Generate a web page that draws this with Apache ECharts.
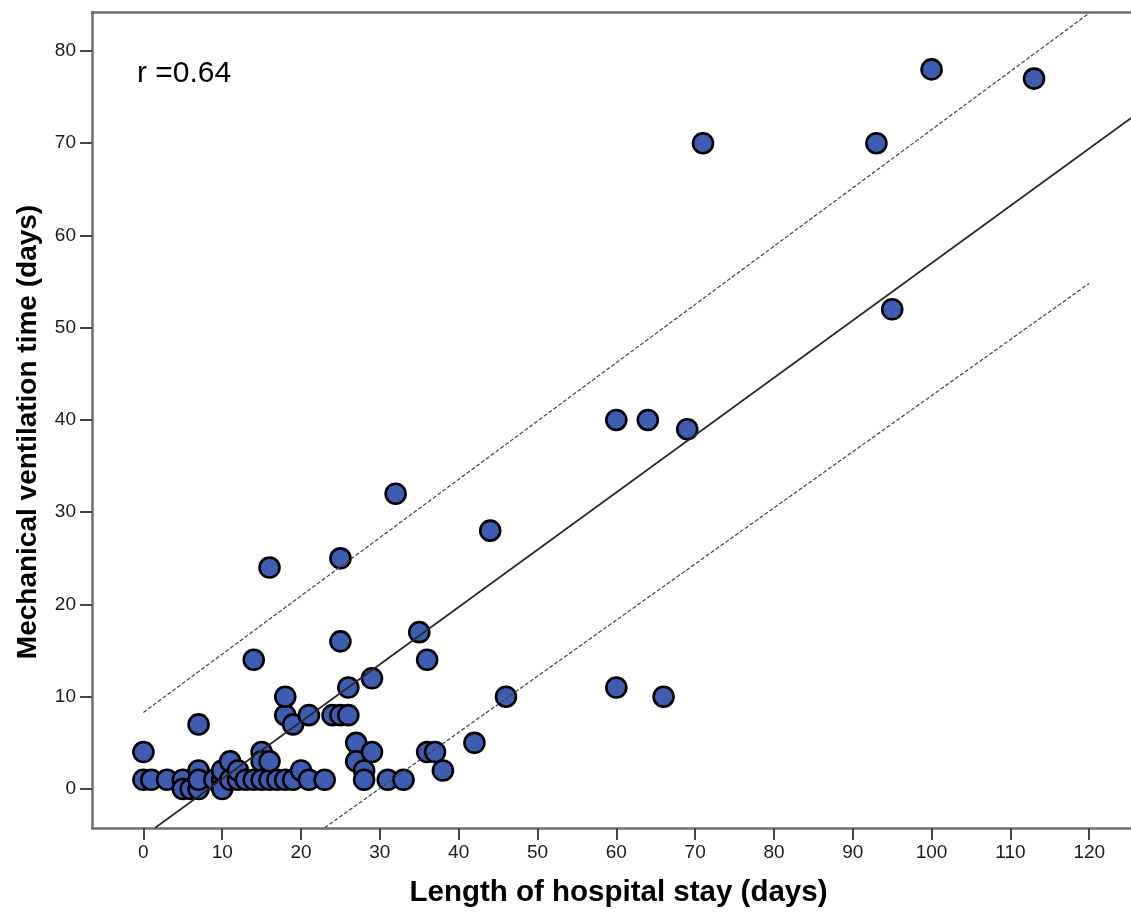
<!DOCTYPE html>
<html>
<head>
<meta charset="utf-8">
<script src="https://cdn.jsdelivr.net/npm/echarts@6/dist/echarts.min.js"></script>
<style>
html,body{margin:0;padding:0;background:#fff;}
#chart{width:1131px;height:913px;}
</style>
</head>
<body>
<div id="chart"></div>
<script>
// Tick labels
const xTickValues = [0,10,20,30,40,50,60,70,80,90,100,110,120];
const yTickValues = [0,10,20,30,40,50,60,70,80];

// Length of hospital stay (days)
const stayDays = [0,0,1,3,5,5,6,7,7,7,7,9,10,10,10,11,11,12,12,13,14,14,15,15,15,16,16,16,17,18,18,18,19,19,20,21,21,23,24,25,25,25,26,26,27,27,28,28,29,29,31,32,33,35,36,36,37,38,42,44,46,60,60,64,66,69,71,93,95,100,113];
// Mechanical ventilation time (days)
const ventDays = [4,1,1,1,1,0,0,0,2,1,7,1,1,0,2,1,3,1,2,1,1,14,4,3,1,1,3,24,1,1,8,10,7,1,2,1,8,1,8,8,16,25,8,11,5,3,2,1,4,12,1,32,1,17,14,4,4,2,5,28,10,40,11,40,10,39,70,70,52,78,77];

// Fit line and prediction band end points
const fitLine = [[1.5,-4.2],[125.6,72.9]];
const upperBand = [[0,8.3],[120,84.1]];
const lowerBand = [[23,-4.2],[120,54.8]];

const rText = 'r =0.64';

const points = stayDays.map((x,i)=>[x, ventDays[i]]);

const chart = echarts.init(document.getElementById('chart'));
const axisColor = '#6e6e6e';
const fontFam = '"Liberation Sans", Arial, sans-serif';
const xMin = -6.52, xMax = 125.3;
chart.setOption({
  animation:false,
  backgroundColor:'#fff',
  grid:{left:92, right:0, top:12, bottom:81, show:false},
  xAxis:[{
    type:'value', min:xMin, max:xMax,
    name:'Length of hospital stay (days)', nameLocation:'middle', nameGap:50,
    nameTextStyle:{fontFamily:fontFam, fontSize:29.5, fontWeight:'bold', color:'#000', padding:[0,0,0,14]},
    axisLine:{show:true, onZero:false, lineStyle:{color:axisColor, width:2.5}},
    axisTick:{show:true, length:12, customValues:xTickValues, lineStyle:{color:'#444', width:2}},
    axisLabel:{customValues:xTickValues, margin:15, fontFamily:fontFam, fontSize:19, color:'#1a1a1a'},
    splitLine:{show:false}
  },{
    type:'value', min:xMin, max:xMax, position:'top',
    axisLine:{show:true, onZero:false, lineStyle:{color:axisColor, width:2.5}},
    axisTick:{show:false}, axisLabel:{show:false}, splitLine:{show:false}
  }],
  yAxis:{
    type:'value', min:-4.23, max:84.22,
    name:'Mechanical ventilation time (days)', nameLocation:'middle', nameGap:50,
    nameTextStyle:{fontFamily:fontFam, fontSize:28, fontWeight:'bold', color:'#000', padding:[0,24,0,0]},
    axisLine:{show:true, onZero:false, lineStyle:{color:axisColor, width:2.5}},
    axisTick:{show:true, length:12, customValues:yTickValues, lineStyle:{color:'#444', width:2}},
    axisLabel:{customValues:yTickValues, margin:16, fontFamily:fontFam, fontSize:19, color:'#1a1a1a'},
    splitLine:{show:false}
  },
  graphic:[{
    type:'text', left:137, top:59,
    style:{text:rText, fontFamily:fontFam, fontSize:30, fill:'#000'}
  }],
  series:[
    {
      type:'scatter', data:points, symbol:'circle', symbolSize:20, z:2,
      itemStyle:{color:'#3e5cb2', borderColor:'#000', borderWidth:2.6, opacity:1}
    },
    {
      type:'line', data:fitLine, showSymbol:false, z:3, clip:true,
      lineStyle:{color:'#2a2a2a', width:1.7, type:'solid'}
    },
    {
      type:'line', data:upperBand, showSymbol:false, z:3, clip:true,
      lineStyle:{color:'#444', width:1.2, type:[4,2]}
    },
    {
      type:'line', data:lowerBand, showSymbol:false, z:3, clip:true,
      lineStyle:{color:'#444', width:1.2, type:[4,2]}
    }
  ]
});
</script>
</body>
</html>
